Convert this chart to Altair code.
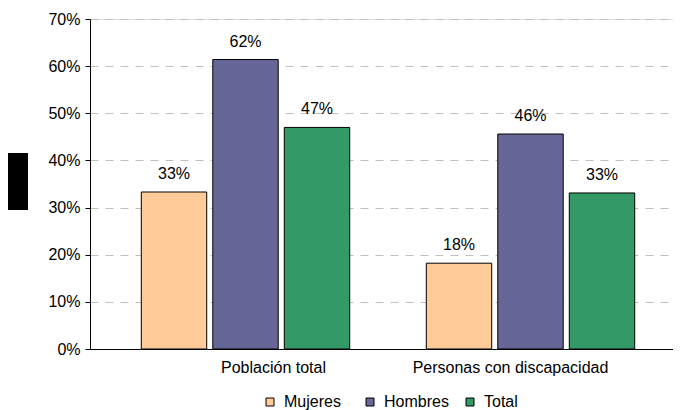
import altair as alt
import pandas as pd

grupos = ["Población total", "Personas con discapacidad"]
series = ["Mujeres", "Hombres", "Total"]
colores = ["#FFCC99", "#666699", "#339966"]
valores_poblacion = [0.333, 0.614, 0.470]
valores_discapacidad = [0.182, 0.456, 0.331]
etiquetas_poblacion = ["33%", "62%", "47%"]
etiquetas_discapacidad = ["18%", "46%", "33%"]

rows = []
for s, v, e in zip(series, valores_poblacion, etiquetas_poblacion):
    rows.append({"grupo": grupos[0], "serie": s, "valor": v, "etiqueta": e})
for s, v, e in zip(series, valores_discapacidad, etiquetas_discapacidad):
    rows.append({"grupo": grupos[1], "serie": s, "valor": v, "etiqueta": e})
df = pd.DataFrame(rows)

FONT = "Liberation Sans"

x_enc = alt.X(
    "grupo:N",
    sort=grupos,
    title=None,
    scale=alt.Scale(paddingInner=0, paddingOuter=0.0228, align=1),
    axis=alt.Axis(
        labelAngle=0, ticks=False, domainColor="black", labelColor="black",
        labelFontSize=16, labelFont=FONT, labelPadding=10, grid=False,
        labelLimit=400,
        labelOffset={"condition": {"test": "datum.value === 'Población total'", "value": 28},
                     "value": -20},
    ),
)
xoff_enc = alt.XOffset(
    "serie:N", sort=series,
    scale=alt.Scale(paddingInner=0.085, paddingOuter=0.5355),
)
y_enc = alt.Y(
    "valor:Q",
    title=None,
    scale=alt.Scale(domain=[0, 0.7]),
    axis=alt.Axis(
        format=".0%", values=[0, 0.1, 0.2, 0.3, 0.4, 0.5, 0.6, 0.7],
        domainColor="black", tickColor="black", tickSize=5, labelPadding=5,
        labelColor="black", labelFontSize=16, labelFont=FONT,
        grid=True, gridColor="#c0c0c0", gridDash=[8, 7], gridWidth=1,
    ),
)

base = alt.Chart(df)

bars = base.mark_bar(stroke="black", strokeWidth=1).encode(
    x=x_enc,
    xOffset=xoff_enc,
    y=y_enc,
    color=alt.Color(
        "serie:N", sort=series,
        scale=alt.Scale(domain=series, range=colores),
        legend=alt.Legend(
            title=None, orient="none", direction="horizontal",
            legendX=172, legendY=375,
            symbolType="square", symbolSize=64, symbolStrokeColor="black",
            symbolStrokeWidth=1, labelFontSize=16, labelFont=FONT,
            labelColor="black", labelOffset=6, columnPadding=13,
            gridAlign="all",
        ),
    ),
)

labels = base.mark_text(
    baseline="bottom", dy=-10, fontSize=16, font=FONT, color="black"
).encode(
    x=alt.X("grupo:N", sort=grupos),
    xOffset=alt.XOffset("serie:N", sort=series),
    y=alt.Y("valor:Q"),
    text="etiqueta:N",
)

caja = alt.Chart(alt.Data(values=[{}])).mark_rect(color="black").encode(
    x=alt.value(-82), x2=alt.value(-62), y=alt.value(134), y2=alt.value(191)
)

chart = alt.layer(bars, labels, caja).properties(
    width=583, height=330,
    padding={"left": 0, "top": 3, "right": 0, "bottom": 0},
).configure_view(stroke=None).configure(background="white")

chart.save("out.html", embed_options={"renderer": "svg", "actions": False})
